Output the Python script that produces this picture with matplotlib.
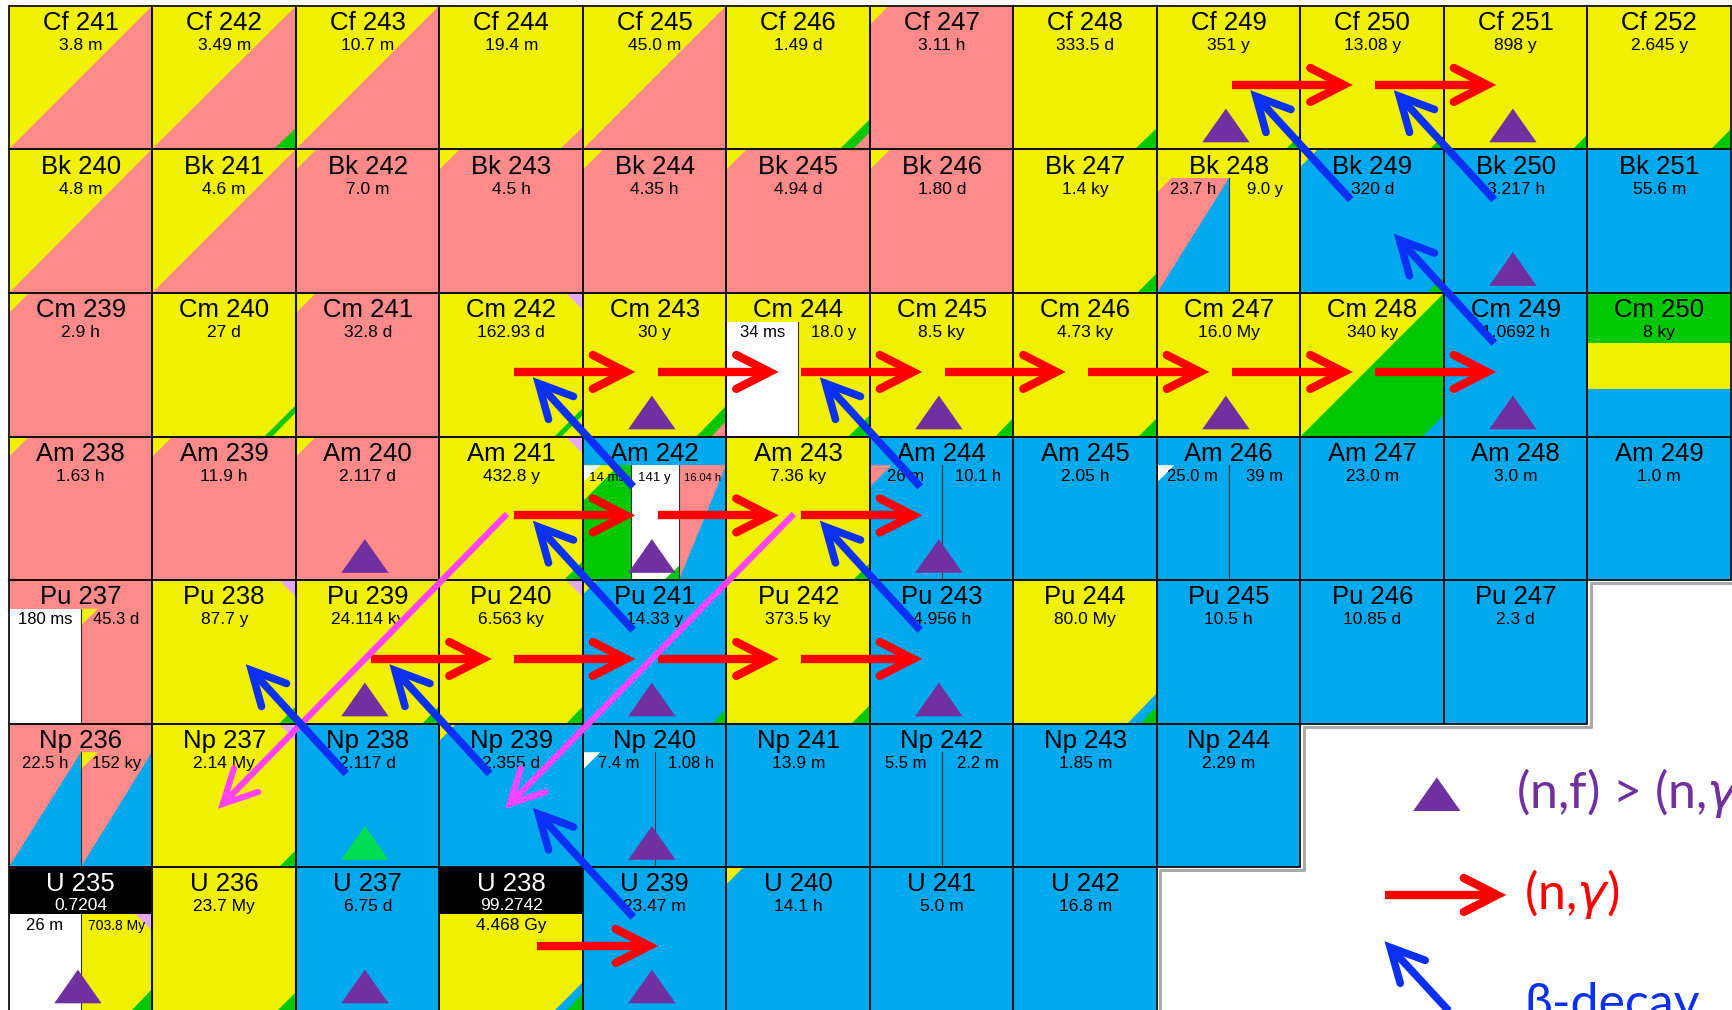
import math
from matplotlib import pyplot as plt
from matplotlib.patches import Polygon, Rectangle

plt.rcParams['mathtext.fontset'] = 'dejavusans'
plt.rcParams['font.family'] = ['Liberation Sans', 'DejaVu Sans']

#filas de la carta, de Z=98 (arriba) a Z=92 (abajo); todas empiezan en N=143
elementos = ['Cf', 'Bk', 'Cm', 'Am', 'Pu', 'Np', 'U']
masa_inicial = [241, 240, 239, 238, 237, 236, 235]

#semividas ('|' separa isomeros dentro de la misma celda)
vidas_Cf = ['3.8 m', '3.49 m', '10.7 m', '19.4 m', '45.0 m', '1.49 d', '3.11 h', '333.5 d', '351 y', '13.08 y', '898 y', '2.645 y']
vidas_Bk = ['4.8 m', '4.6 m', '7.0 m', '4.5 h', '4.35 h', '4.94 d', '1.80 d', '1.4 ky', '23.7 h|9.0 y', '320 d', '3.217 h', '55.6 m']
vidas_Cm = ['2.9 h', '27 d', '32.8 d', '162.93 d', '30 y', '34 ms|18.0 y', '8.5 ky', '4.73 ky', '16.0 My', '340 ky', '1.0692 h', '8 ky']
vidas_Am = ['1.63 h', '11.9 h', '2.117 d', '432.8 y', '14 ms|141 y|16.04 h', '7.36 ky', '26 m|10.1 h', '2.05 h', '25.0 m|39 m', '23.0 m', '3.0 m', '1.0 m']
vidas_Pu = ['180 ms|45.3 d', '87.7 y', '24.114 ky', '6.563 ky', '14.33 y', '373.5 ky', '4.956 h', '80.0 My', '10.5 h', '10.85 d', '2.3 d']
vidas_Np = ['22.5 h|152 ky', '2.14 My', '2.117 d', '2.355 d', '7.4 m|1.08 h', '13.9 m', '5.5 m|2.2 m', '1.85 m', '2.29 m']
vidas_U = ['26 m|703.8 My', '23.7 My', '6.75 d', '4.468 Gy', '23.47 m', '14.1 h', '5.0 m', '16.8 m']

abundancia = {'U 235': '0.7204', 'U 238': '99.2742'}

#modos de desintegracion: Y alfa, P beta+/EC, B beta-, G fision espontanea, W transicion isomerica,
#L emision de cluster, K estable. 'esquina:modo:fraccion', 'X/' = franja superior del nombre
modos_Cf = ['Y br:P:1', 'Y br:P:1 br:G:.15', 'Y br:P:1', 'Y br:P:.16', 'Y br:P:1', 'Y br:G:.21 br:P:.12',
	'P tl:Y:.13', 'Y br:G:.15', 'Y br:G:.1', 'Y br:G:.1', 'Y br:G:.1', 'Y br:G:.14']
modos_Bk = ['Y br:P:1', 'Y br:P:1', 'P tl:Y:.14', 'P tl:Y:.14', 'P tl:Y:.14', 'P tl:Y:.14',
	'P tl:Y:.14', 'Y br:G:.14', 'Y/P br:B:1 tl:Y:.1|Y', 'B tl:Y:.12 br:G:.12', 'B', 'B']
modos_Cm = ['P tl:Y:.14', 'Y br:G:.22 br:Y:.17', 'P tl:Y:.14', 'Y tr:L:.12 br:G:.2 br:Y:.15', 'Y br:G:.21 br:P:.11',
	'Y/W|Y br:G:.15', 'Y br:G:.13', 'Y br:G:.13', 'Y', 'Y br:G:1 br:B:.15', 'B', 'B top:Y:.67 top:G:.35']
modos_Am = ['P tl:Y:.14', 'P tl:Y:.14', 'P tl:Y:.14', 'Y tr:L:.12 br:G:.13', 'B/G tl:Y:.25 tl:W:.12|W br:G:.1|P br:B:1',
	'Y br:G:.12', 'B/B tl:P:.15|B', 'B', 'B/B tl:W:.12|B', 'B', 'B', 'B']
modos_Pu = ['P/W|P tl:Y:.12', 'Y tr:L:.12 br:G:.12', 'Y br:G:.12', 'Y tr:L:.12 br:G:.12', 'B tl:Y:.1 br:G:.1',
	'Y br:G:.13', 'B', 'Y br:B:.21 br:G:.12', 'B', 'B', 'B']
modos_Np = ['P/P br:B:1|P br:B:1 tl:Y:.12', 'Y tr:L:.12 br:G:.12', 'B', 'B tl:Y:.12', 'B/B tl:W:.12|B',
	'B', 'B/B|B', 'B', 'B']
modos_U = ['K/W|Y tr:L:.12 br:G:.15', 'Y br:G:.13', 'B', 'K/Y br:B:.2 br:G:.12', 'B', 'B tl:Y:.12', 'B', 'B']

vidas = [vidas_Cf, vidas_Bk, vidas_Cm, vidas_Am, vidas_Pu, vidas_Np, vidas_U]
modos = [modos_Cf, modos_Bk, modos_Cm, modos_Am, modos_Pu, modos_Np, modos_U]

#(n,f) > (n,gamma)
fisiles = ['Cf 249', 'Cf 251', 'Bk 250', 'Cm 243', 'Cm 245', 'Cm 247', 'Cm 249', 'Am 240', 'Am 242',
	'Am 244', 'Pu 239', 'Pu 241', 'Pu 243', 'Np 240', 'U 235', 'U 237', 'U 239']
marca_verde = ['Np 238']

#cadenas de reaccion: captura (n,gamma), beta- y alfa
capturas = ['Cf 249', 'Cf 250', 'Cm 242', 'Cm 243', 'Cm 244', 'Cm 245', 'Cm 246', 'Cm 247', 'Cm 248',
	'Am 241', 'Am 242', 'Am 243', 'Pu 239', 'Pu 240', 'Pu 241', 'Pu 242', 'U 238']
betas = ['Bk 249', 'Bk 250', 'Cm 249', 'Am 242', 'Am 244', 'Pu 241', 'Pu 243', 'Np 238', 'Np 239', 'U 239']
alfas = ['Am 241', 'Am 243']

colores = {'Y': '#f0f000', 'P': '#ff8a8a', 'B': '#00a8ee', 'G': '#00c800',
	'W': '#ffffff', 'L': '#e4a8f4', 'K': '#000000'}

ROJO = '#ff0000'
AZUL = '#0a30f5'
MAGENTA = '#ff44ff'
MORADO = '#7030a0'


def posicion(nucleido):
	elem, masa = nucleido.split()
	fila = elementos.index(elem)
	return int(masa) - masa_inicial[fila], fila


def triangulo_esquina(ax, x0, y0, w, h, esquina, color, s):
	if esquina == 'top':
		ax.add_patch(Rectangle((x0, y0), w, s * h, facecolor=color, edgecolor='none', zorder=2))
		return
	lx, ly = (w, h) if s >= 1 else (s, s)
	if esquina == 'br':
		pts = [(x0 + w - lx, y0 + h), (x0 + w, y0 + h), (x0 + w, y0 + h - ly)]
	elif esquina == 'tl':
		pts = [(x0, y0), (x0 + lx, y0), (x0, y0 + ly)]
	else:
		pts = [(x0 + w - lx, y0), (x0 + w, y0), (x0 + w, y0 + ly)]
	ax.add_patch(Polygon(pts, closed=True, facecolor=color, edgecolor='none', zorder=2))


def dibujar_celda(ax, x, y, nombre, vida, modo):
	if '/' in modo:
		banda, resto = modo.split('/', 1)
		hb = 0.325 if banda == 'K' else 0.2
		ax.add_patch(Rectangle((x, y), 1, hb, facecolor=colores[banda], edgecolor='none', zorder=1))
	else:
		banda, resto, hb = None, modo, 0.0

	paneles = resto.split('|')
	w = 1.0 / len(paneles)
	for i, p in enumerate(paneles):
		partes = p.split()
		x0 = x + i * w
		ax.add_patch(Rectangle((x0, y + hb), w, 1 - hb, facecolor=colores[partes[0]], edgecolor='none', zorder=1))
		for d in partes[1:]:
			esq, m, s = d.split(':')
			triangulo_esquina(ax, x0, y + hb, w, 1 - hb, esq, colores[m], float(s))
		if i > 0:
			ax.plot([x0, x0], [y + hb, y + 1], color='#333333', lw=0.8, zorder=3)

	ax.add_patch(Rectangle((x, y), 1, 1, facecolor='none', edgecolor='#111111', lw=1.3, zorder=4))

	color_txt = 'white' if banda == 'K' else 'black'
	ax.text(x + 0.5, y + 0.17, nombre, ha='center', va='baseline', fontsize=18.5, color=color_txt, zorder=5)
	if nombre in abundancia:
		ax.text(x + 0.5, y + 0.30, abundancia[nombre], ha='center', va='baseline', fontsize=12.5, color='white', zorder=5)
		yv = y + 0.44
	else:
		yv = y + 0.31
	partes = vida.split('|')
	wv = 1.0 / len(partes)
	for i, v in enumerate(partes):
		if len(partes) == 1:
			fs = 12.5
		elif len(partes) == 2:
			fs = 12 if len(v) <= 6 else 10
		else:
			fs = 9.5 if len(v) <= 5 else 8
		ax.text(x + (i + 0.5) * wv, yv, v, ha='center', va='baseline', fontsize=fs, color='black', zorder=5)


def marca(ax, xc, yt, color):
	pts = [(xc, yt), (xc - 0.165, yt + 0.235), (xc + 0.165, yt + 0.235)]
	ax.add_patch(Polygon(pts, closed=True, facecolor=color, edgecolor='none', zorder=4.5))


def flecha(ax, x0, y0, x1, y1, color, lw, largo, z):
	ax.plot([x0, x1], [y0, y1], color=color, lw=lw, solid_capstyle='butt', zorder=z)
	ang = math.atan2(y0 - y1, x0 - x1)
	a = math.radians(27)
	xs = [x1 + largo * math.cos(ang + a), x1, x1 + largo * math.cos(ang - a)]
	ys = [y1 + largo * math.sin(ang + a), y1, y1 + largo * math.sin(ang - a)]
	ax.plot(xs, ys, color=color, lw=lw, solid_capstyle='round', solid_joinstyle='miter', zorder=z)


if __name__ == "__main__":

	fig = plt.figure(figsize=(17.33, 10.10), dpi=100)
	ax = fig.add_axes([0, 0, 1, 1])
	celda = 143.5
	ax.set_xlim(-9 / celda, (1733 - 9) / celda)
	ax.set_ylim((1010 - 6) / celda, -6 / celda)
	ax.axis('off')

	for fila, elem in enumerate(elementos):
		for col, (vida, modo) in enumerate(zip(vidas[fila], modos[fila])):
			nombre = '%s %d' % (elem, masa_inicial[fila] + col)
			dibujar_celda(ax, col, fila, nombre, vida, modo)

	#sombra gris del borde escalonado
	d = 0.022
	xs, ys = [12 + d], [0]
	for fila in range(len(elementos)):
		largo = len(vidas[fila])
		if xs[-1] != largo + d:
			xs.append(largo + d)
			ys.append(ys[-1])
		xs.append(largo + d)
		ys.append(fila + 1 + d)
	ax.plot(xs, ys, color='#aaaaaa', lw=2.2, zorder=0.5)

	for n in fisiles:
		c, r = posicion(n)
		marca(ax, c + 0.48, r + 0.715, MORADO)
	for n in marca_verde:
		c, r = posicion(n)
		marca(ax, c + 0.48, r + 0.715, '#00dd55')

	for n in capturas:
		c, r = posicion(n)
		#la flecha que sale del U 238 arranca debajo de la franja negra
		dx = 0.16 if n in abundancia else 0.0
		flecha(ax, c + 0.52 + dx, r + 0.55, c + 1.30 + dx, r + 0.55, ROJO, 6, 0.26, 6)

	for n in alfas:
		c, r = posicion(n)
		flecha(ax, c + 0.47, r + 0.54, c - 1.51, r + 2.56, MAGENTA, 4.5, 0.26, 7)

	for n in betas:
		c, r = posicion(n)
		flecha(ax, c + 0.35, r + 0.35, c - 0.31, r - 0.37, AZUL, 5.5, 0.26, 8)

	#leyenda
	leyenda = dict(ha='left', va='baseline', fontsize=36, family=['Lato', 'DejaVu Sans'])
	marca(ax, 9.95, 5.375, MORADO)
	ax.text(10.50, 5.59, r'(n,f) > (n,$\gamma$)', color=MORADO, **leyenda)
	flecha(ax, 9.59, 6.195, 10.37, 6.195, ROJO, 6, 0.26, 6)
	ax.text(10.56, 6.29, r'(n,$\gamma$)', color=ROJO, **leyenda)
	flecha(ax, 10.16, 7.14, 9.625, 6.56, AZUL, 5.5, 0.26, 8)
	ax.text(10.56, 7.06, 'β-decay', color=AZUL, **leyenda)

	fig.savefig('out.png', dpi=100)
